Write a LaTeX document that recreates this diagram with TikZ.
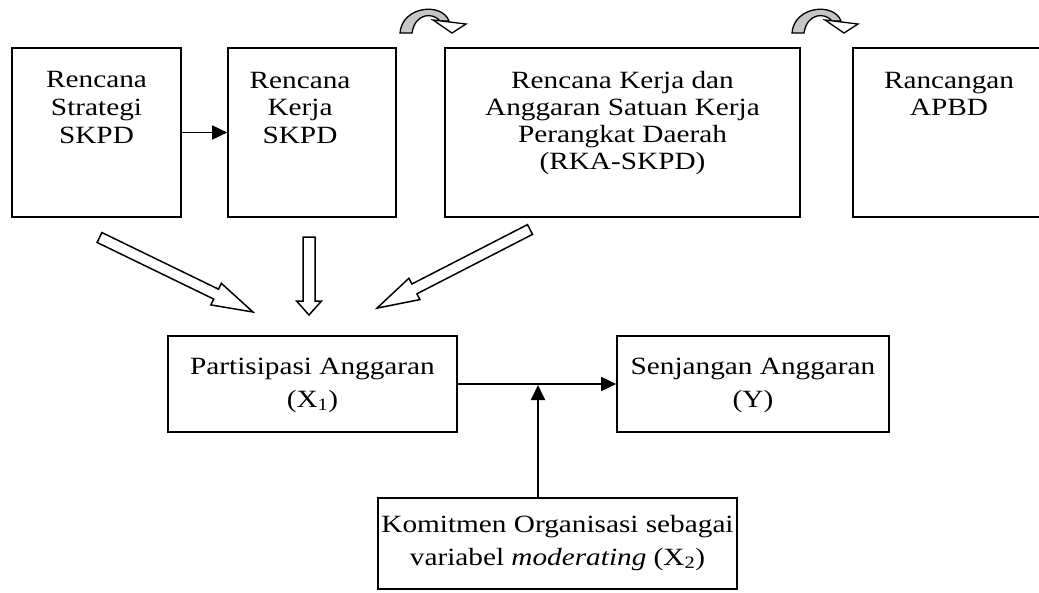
\documentclass[tikz,border=0pt]{standalone}
\usepackage{fontspec}
\setmainfont{Liberation Serif}[FakeStretch=1.18]
\usetikzlibrary{arrows.meta}
\newcommand\txtlines[2]{\vtop{\baselineskip=#1\relax\halign{\hfil##\hfil\cr#2\crcr}}}
\newcommand\hollowarrow[6]{%
\begin{scope}[shift={#1}, rotate=#2]
\path[hollow] (0,-#5) -- ({#3-#4},-#5) -- ({#3-#4},-#6) -- (#3,0) -- ({#3-#4},#6) -- ({#3-#4},#5) -- (0,#5) -- cycle;
\end{scope}}
\newcommand\curvedarrow[1]{%
\begin{scope}[shift={(#1,0)}]
\path[curv] (0,33) .. controls (2,6) and (42,2) .. (49,21) -- (40,21) .. controls (33,12) and (15,13) .. (12,33) -- cycle;
\path[hollow, line width=1.3pt] (33,20) -- (66,24) -- (52,33) -- cycle;
\end{scope}}
\begin{document}
\begin{tikzpicture}[x=1pt,y=-1pt,
 box/.style={draw, line width=1.7pt, inner sep=0pt},
 lbl/.style={anchor=base, inner sep=0pt, font=\fontsize{24.8}{28}\selectfont},
 conn/.style={line width=1.8pt, -{Triangle[length=15pt,width=14pt]}},
 hollow/.style={draw, line width=1.5pt, fill=white, line join=miter},
 curv/.style={draw, line width=1.3pt, fill=gray!45},
]
\useasboundingbox (0,0) rectangle (1039,592);
\clip (0,0) rectangle (1039,592);
% top boxes
\node[box, minimum width=169pt, minimum height=169pt] (b1) at (96.5,132.5) {};
\node[box, minimum width=168pt, minimum height=169pt] (b2) at (312,132.5) {};
\node[box, minimum width=355pt, minimum height=169pt] (b3) at (622.5,132.5) {};
\node[box, minimum width=207pt, minimum height=169pt] (b4) at (956.5,132.5) {};
% lower boxes
\node[box, minimum width=289pt, minimum height=96pt] (part) at (312.5,384) {};
\node[box, minimum width=272pt, minimum height=96pt] (sen) at (753,384) {};
\node[box, minimum width=359pt, minimum height=91pt] (kom) at (557.5,543.5) {};
% labels
\node[lbl] (t1) at (96.5,87) {\txtlines{28pt}{Rencana\cr Strategi\cr SKPD}};
\node[lbl] (t2) at (300,88) {\txtlines{27.5pt}{Rencana\cr Kerja\cr SKPD}};
\node[lbl] (t3) at (622.5,88) {\txtlines{27.3pt}{Rencana Kerja dan\cr Anggaran Satuan Kerja\cr Perangkat Daerah\cr (RKA-SKPD)}};
\node[lbl] (t4) at (949,88) {\txtlines{27.5pt}{Rancangan\cr APBD}};
\node[lbl] (tp) at (312.5,374) {\txtlines{33pt}{Partisipasi Anggaran\cr (X\textsubscript{1})}};
\node[lbl] (ts) at (753,374) {\txtlines{33pt}{Senjangan Anggaran\cr (Y)}};
\node[lbl] (tk) at (557.5,532) {\txtlines{33pt}{Komitmen Organisasi sebagai\cr variabel \textit{moderating} (X\textsubscript{2})}};
% connectors
\draw[conn] (b1) -- (b2);
\draw[conn] (part) -- (sen);
\coordinate (mj) at (538,385);
\draw[conn] (kom.north -| mj) -- (mj);
% hollow block arrows
\hollowarrow{(99.5,237.5)}{-25.9}{170.6}{41}{5.5}{12}
\hollowarrow{(309,237)}{-90}{78}{14}{6}{12.5}
\hollowarrow{(530,229.5)}{-152.8}{172}{42}{5.5}{12}
% curved arrows
\curvedarrow{400}
\curvedarrow{792}
\end{tikzpicture}
\end{document}
